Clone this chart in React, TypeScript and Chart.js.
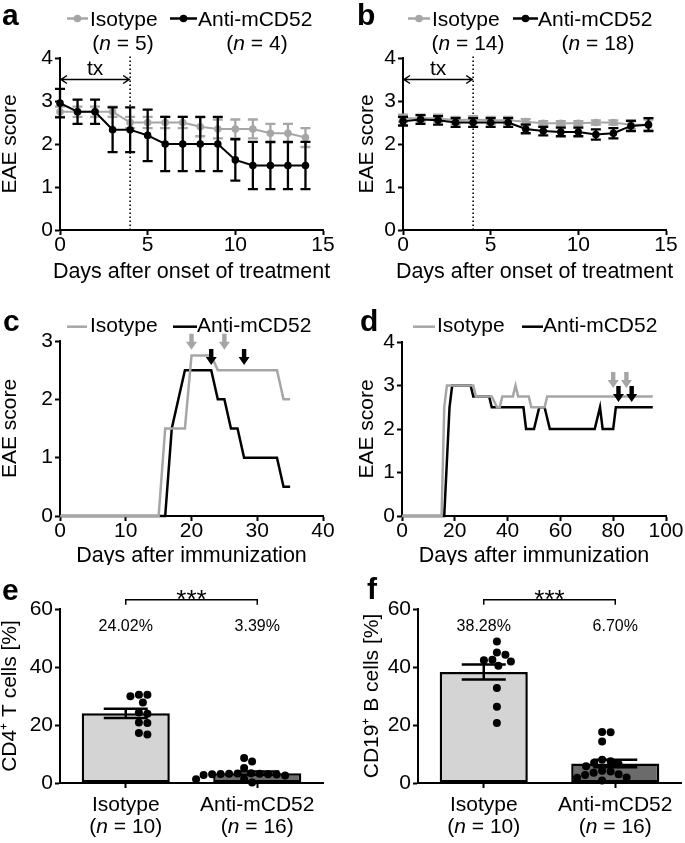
import React, { useEffect, useRef } from "react";
import { Chart, registerables } from "chart.js";

Chart.register(...registerables);

const FONT = "'Liberation Sans', Arial, Helvetica, sans-serif";
const INK = "#000000";
const GREY = "#a6a6a6";
const BAR_LIGHT = "#d4d4d4";
const BAR_DARK = "#6b6b6b";

// ---------------- data: panel a ----------------
const daysA = [0, 1, 2, 3, 4, 5, 6, 7, 8, 9, 10, 11, 12, 13, 14];
const isotypeA = [2.75, 2.75, 2.75, 2.75, 2.5, 2.5, 2.5, 2.5, 2.4, 2.35, 2.35, 2.35, 2.25, 2.25, 2.15];
const isotypeSemA = [0.12, 0.12, 0.12, 0.12, 0.13, 0.13, 0.13, 0.13, 0.22, 0.22, 0.22, 0.22, 0.22, 0.22, 0.22];
const antiA = [2.95, 2.75, 2.75, 2.33, 2.33, 2.2, 2.0, 2.0, 2.0, 2.0, 1.63, 1.5, 1.5, 1.5, 1.5];
const antiSemA = [0.33, 0.28, 0.28, 0.52, 0.52, 0.6, 0.63, 0.63, 0.63, 0.63, 0.48, 0.55, 0.55, 0.55, 0.55];
const groupSizesA = [5, 4];

// ---------------- data: panel b ----------------
const daysB = [0, 1, 2, 3, 4, 5, 6, 7, 8, 9, 10, 11, 12, 13, 14];
const isotypeB = [2.6, 2.6, 2.6, 2.55, 2.57, 2.55, 2.55, 2.52, 2.48, 2.48, 2.48, 2.5, 2.5, 2.45, 2.45];
const isotypeSemB = [0.08, 0.08, 0.08, 0.08, 0.08, 0.08, 0.08, 0.06, 0.05, 0.05, 0.05, 0.05, 0.05, 0.1, 0.12];
const antiB = [2.53, 2.57, 2.55, 2.5, 2.5, 2.5, 2.5, 2.35, 2.3, 2.28, 2.28, 2.22, 2.25, 2.42, 2.45];
const antiSemB = [0.1, 0.1, 0.1, 0.1, 0.1, 0.1, 0.1, 0.1, 0.1, 0.1, 0.1, 0.12, 0.12, 0.12, 0.15];
const groupSizesB = [14, 18];

const treatmentStartDay = 0;
const treatmentEndDay = 4;
const treatmentArrowScore = 3.5;

// ---------------- data: panel c ----------------
const isotypeDaysC = [0, 15, 16, 19, 20, 23, 24, 33, 34, 35];
const isotypeScoreC = [0, 0, 1.5, 1.5, 2.75, 2.75, 2.5, 2.5, 2.0, 2.0];
const antiDaysC = [0, 16, 17, 18, 19, 23, 24, 25, 26, 27, 28, 33, 34, 35];
const antiScoreC = [0, 0, 1.5, 2.0, 2.5, 2.5, 2.0, 2.0, 1.5, 1.5, 1.0, 1.0, 0.5, 0.5];
const isotypeArrowDaysC = [20, 25];
const antiArrowDaysC = [23, 28];
const isotypeArrowTipC = 2.85;
const antiArrowTipC = 2.59;

// ---------------- data: panel d ----------------
const isotypeDaysD = [0, 15, 16, 17, 27, 28, 34, 36, 37, 38, 42, 43, 44, 48, 49, 54, 55, 95];
const isotypeScoreD = [0, 0, 2.5, 3.0, 3.0, 2.75, 2.75, 2.5, 2.5, 2.75, 2.75, 3.0, 2.75, 2.75, 2.5, 2.5, 2.75, 2.75];
const antiDaysD = [0, 16, 18, 19, 26, 27, 33, 34, 46, 47, 50, 52, 54, 56, 73, 75, 76, 80, 81, 95];
const antiScoreD = [0, 0, 2.5, 3.0, 3.0, 2.75, 2.75, 2.5, 2.5, 2.0, 2.0, 2.5, 2.5, 2.0, 2.0, 2.5, 2.0, 2.0, 2.5, 2.5];
const isotypeArrowDaysD = [80, 85];
const antiArrowDaysD = [82, 87];
const isotypeArrowTipD = 2.94;
const antiArrowTipD = 2.62;

// ---------------- data: panels e / f ----------------
const groups = ["Isotype", "Anti-mCD52"];
const groupSizesEF = [10, 16];
const significance = "***";

const isotypeCd4 = [30.4, 29.9, 27.8, 30.4, 23.9, 24.3, 20.7, 20.9, 16.7, 17.2];
const antiCd4 = [8.6, 7.4, 5.2, 3.4, 3.3, 3.2, 3.2, 3.1, 3.0, 3.0, 2.9, 2.8, 2.6, 1.4, 1.3, 0.2];
const meansCd4 = [24.02, 3.39];
const semCd4 = [1.6, 0.55];

const isotypeCd19 = [48.8, 45.0, 44.2, 42.5, 41.9, 42.3, 40.4, 32.8, 26.3, 20.7];
const antiCd19 = [17.6, 17.5, 14.3, 8.0, 7.5, 7.0, 6.5, 5.8, 4.2, 4.0, 3.5, 3.0, 2.8, 1.9, 1.8, 0.9];
const meansCd19 = [38.28, 6.7];
const semCd19 = [2.6, 1.3];

// ---------------- helpers ----------------
const AXIS_FONT = { family: FONT, size: 21, lineHeight: 1 };
type Part = [string, boolean];

function drawParts(ctx: any, parts: Part[], x: number, y: number, size: number, align: "left" | "center") {
  ctx.save();
  ctx.textBaseline = "alphabetic";
  ctx.textAlign = "left";
  ctx.fillStyle = INK;
  const widths = parts.map(([t, it]) => {
    ctx.font = `${it ? "italic " : ""}${size}px ${FONT}`;
    return ctx.measureText(t).width;
  });
  const total = widths.reduce((a, b) => a + b, 0);
  let cx = align === "center" ? x - total / 2 : x;
  parts.forEach(([t, it], i) => {
    ctx.font = `${it ? "italic " : ""}${size}px ${FONT}`;
    ctx.fillText(t, cx, y);
    cx += widths[i];
  });
  ctx.restore();
}
const nParts = (n: number): Part[] => [["(", false], ["n", true], [` = ${n})`, false]];

function drawDownArrow(ctx: any, x: number, yTip: number, color: string) {
  const headH = 8, headW = 5.5, shaftW = 2.2, shaftH = 8;
  ctx.fillStyle = color;
  ctx.beginPath();
  ctx.moveTo(x, yTip);
  ctx.lineTo(x - headW, yTip - headH);
  ctx.lineTo(x - shaftW, yTip - headH);
  ctx.lineTo(x - shaftW, yTip - headH - shaftH);
  ctx.lineTo(x + shaftW, yTip - headH - shaftH);
  ctx.lineTo(x + shaftW, yTip - headH);
  ctx.lineTo(x + headW, yTip - headH);
  ctx.closePath();
  ctx.fill();
}

function drawErrors(chart: any, args: any, onTop: boolean) {
  const ds = chart.data.datasets[args.index];
  if (!ds.errors || !!ds.errorsOnTop !== onTop) return;
  const meta = args.meta;
  const ys = chart.scales[meta.yAxisID];
  const ctx = chart.ctx;
  ctx.save();
  ctx.strokeStyle = ds.errorColor || INK;
  ctx.lineWidth = ds.errorWidth || 2;
  meta.data.forEach((el: any, i: number) => {
    const raw = ds.data[i];
    const v = typeof raw === "number" ? raw : raw.y;
    const e = ds.errors[i];
    const x = el.x;
    const y1 = ys.getPixelForValue(v + e);
    const y2 = ys.getPixelForValue(v - e);
    const h = ds.errorCap || 5;
    ctx.beginPath();
    ctx.moveTo(x, y1); ctx.lineTo(x, y2);
    ctx.moveTo(x - h, y1); ctx.lineTo(x + h, y1);
    ctx.moveTo(x - h, y2); ctx.lineTo(x + h, y2);
    ctx.stroke();
  });
  ctx.restore();
}

const errorBarPlugin = {
  id: "errorBars",
  beforeDatasetDraw(chart: any, args: any) { drawErrors(chart, args, false); },
  afterDatasetDraw(chart: any, args: any) { drawErrors(chart, args, true); },
};

function decoPlugin(cfg: any) {
  return {
    id: "deco",
    afterDraw(chart: any) {
      const ctx = chart.ctx;
      const xs = chart.scales.x, ys = chart.scales.y;
      const area = chart.chartArea;
      ctx.save();
      ctx.fillStyle = INK;
      ctx.textAlign = "left";
      ctx.textBaseline = "alphabetic";
      ctx.font = `bold 30px ${FONT}`;
      ctx.fillText(cfg.tag, cfg.tagX, cfg.tagY);
      if (cfg.caption) {
        ctx.font = `21.5px ${FONT}`;
        ctx.textAlign = "center";
        ctx.fillText(cfg.caption, (area.left + area.right) / 2, area.bottom + cfg.captionDy);
      }
      (cfg.items || []).forEach((it: any) => {
        ctx.strokeStyle = it.color;
        ctx.lineWidth = 2.5;
        ctx.beginPath();
        ctx.moveTo(it.x0, it.lineY);
        ctx.lineTo(it.x1, it.lineY);
        ctx.stroke();
        if (it.marker) {
          ctx.fillStyle = it.color;
          ctx.beginPath();
          ctx.arc((it.x0 + it.x1) / 2, it.lineY, 3.8, 0, Math.PI * 2);
          ctx.fill();
        }
        drawParts(ctx, [[it.text, false]], it.textX, it.textY, 21, "left");
        if (it.n != null) drawParts(ctx, nParts(it.n), it.nX, it.nY, 21, "center");
      });
      (cfg.arrows || []).forEach((a: any) => {
        drawDownArrow(ctx, xs.getPixelForValue(a.day), ys.getPixelForValue(a.tip), a.color);
      });
      ctx.restore();
    },
  };
}

function txPlugin(cfg: any) {
  return {
    id: "tx",
    beforeDatasetsDraw(chart: any) {
      const ctx = chart.ctx;
      const xs = chart.scales.x, ys = chart.scales.y;
      const x = xs.getPixelForValue(cfg.endDay);
      const x0 = xs.getPixelForValue(cfg.startDay);
      ctx.save();
      ctx.strokeStyle = INK;
      ctx.lineWidth = 1.6;
      ctx.setLineDash([1.6, 2.4]);
      ctx.beginPath();
      ctx.moveTo(x, ys.getPixelForValue(0));
      ctx.lineTo(x, chart.chartArea.top - 3);
      ctx.stroke();
      ctx.setLineDash([]);
      const y = ys.getPixelForValue(cfg.score);
      ctx.lineWidth = 1.5;
      ctx.beginPath();
      ctx.moveTo(x0, y); ctx.lineTo(x, y);
      ctx.moveTo(x0 + 7, y - 4); ctx.lineTo(x0 + 1, y); ctx.lineTo(x0 + 7, y + 4);
      ctx.moveTo(x - 7, y - 4); ctx.lineTo(x - 1, y); ctx.lineTo(x - 7, y + 4);
      ctx.stroke();
      ctx.fillStyle = INK;
      ctx.font = `21px ${FONT}`;
      ctx.textAlign = "center";
      ctx.textBaseline = "alphabetic";
      ctx.fillText("tx", (x0 + x) / 2, y - 5);
      ctx.restore();
    },
  };
}

function barNotesPlugin(cfg: any) {
  return {
    id: "barNotes",
    afterDraw(chart: any) {
      const ctx = chart.ctx;
      const xs = chart.scales.x, ys = chart.scales.y;
      const area = chart.chartArea;
      const xA = xs.getPixelForValue(0), xB = xs.getPixelForValue(1);
      ctx.save();
      ctx.fillStyle = INK;
      ctx.font = `16px ${FONT}`;
      ctx.textAlign = "center";
      ctx.textBaseline = "middle";
      cfg.means.forEach((m: number, i: number) => {
        ctx.fillText(m.toFixed(2) + "%", xs.getPixelForValue(i), ys.getPixelForValue(cfg.percentScore));
      });
      const yb = ys.getPixelForValue(cfg.bracketScore);
      ctx.strokeStyle = INK;
      ctx.lineWidth = 1.5;
      ctx.beginPath();
      ctx.moveTo(xA, yb + 5); ctx.lineTo(xA, yb); ctx.lineTo(xB, yb); ctx.lineTo(xB, yb + 5);
      ctx.stroke();
      ctx.font = `26px ${FONT}`;
      ctx.textBaseline = "alphabetic";
      ctx.fillText(cfg.stars, (xA + xB) / 2, yb + 8);
      cfg.groups.forEach((g: string, i: number) => {
        const x = xs.getPixelForValue(i);
        drawParts(ctx, [[g, false]], x, area.bottom + 28, 21, "center");
        drawParts(ctx, nParts(cfg.ns[i]), x, area.bottom + 50, 21, "center");
      });
      ctx.fillStyle = INK;
      ctx.textAlign = "left";
      ctx.font = `bold 30px ${FONT}`;
      ctx.fillText(cfg.tag, cfg.tagX, cfg.tagY);
      ctx.restore();
    },
  };
}

const gridOpts = { drawOnChartArea: false, drawTicks: true, tickLength: 5, tickWidth: 2, tickColor: INK, color: INK };
const borderOpts = { display: true, color: INK, width: 2 };

function linearX(min: number, max: number, step: number, boxHeight: number) {
  return {
    type: "linear", min, max,
    ticks: { stepSize: step, color: INK, font: AXIS_FONT, padding: 0, maxRotation: 0, autoSkip: false },
    grid: gridOpts,
    border: borderOpts,
    afterFit: (s: any) => { s.height = boxHeight; },
  };
}
function linearY(max: number, step: number, boxWidth: number, title: string) {
  return {
    type: "linear", min: 0, max,
    ticks: { stepSize: step, color: INK, font: AXIS_FONT, padding: 2 },
    grid: gridOpts,
    border: borderOpts,
    title: { display: true, text: title, color: INK, font: AXIS_FONT, padding: 0 },
    afterFit: (s: any) => { s.width = boxWidth; },
  };
}
function baseOptions(padding: any, scales: any) {
  return {
    responsive: false,
    animation: false,
    devicePixelRatio: 1,
    events: [],
    layout: { padding },
    scales,
    plugins: { legend: { display: false }, tooltip: { enabled: false } },
  };
}

function pointsSeries(xs: number[], ys: number[]) {
  return xs.map((x, i) => ({ x, y: ys[i] }));
}

function makeScorePanel(canvas: HTMLCanvasElement, cfg: any) {
  return new Chart(canvas as any, {
    type: "line",
    data: {
      datasets: [
        {
          label: "Anti-mCD52", data: pointsSeries(cfg.days, cfg.anti),
          borderColor: INK, backgroundColor: INK, borderWidth: 2, pointRadius: 3.8, pointBorderWidth: 0,
          pointBackgroundColor: INK, errors: cfg.antiSem, errorColor: INK, errorWidth: 2.3, errorCap: 5,
          order: 1, clip: false,
        } as any,
        {
          label: "Isotype", data: pointsSeries(cfg.days, cfg.iso),
          borderColor: GREY, backgroundColor: GREY, borderWidth: 2, pointRadius: 3.8, pointBorderWidth: 0,
          pointBackgroundColor: GREY, errors: cfg.isoSem, errorColor: GREY, errorWidth: 2.3, errorCap: 5,
          order: 2, clip: false,
        } as any,
      ],
    },
    options: baseOptions(cfg.padding, {
      x: linearX(0, 15, 5, 55),
      y: linearY(4, 1, cfg.yWidth, "EAE score"),
    }) as any,
    plugins: [
      errorBarPlugin,
      txPlugin({ startDay: treatmentStartDay, endDay: treatmentEndDay, score: treatmentArrowScore }),
      decoPlugin(cfg.deco),
    ],
  });
}

function makeCoursePanel(canvas: HTMLCanvasElement, cfg: any) {
  return new Chart(canvas as any, {
    type: "line",
    data: {
      datasets: [
        {
          label: "Isotype", data: pointsSeries(cfg.isoDays, cfg.isoScore),
          borderColor: GREY, borderWidth: 2.5, pointRadius: 0, order: 1, clip: false,
        } as any,
        {
          label: "Anti-mCD52", data: pointsSeries(cfg.antiDays, cfg.antiScore),
          borderColor: INK, borderWidth: 2.5, pointRadius: 0, order: 2, clip: false,
        } as any,
      ],
    },
    options: baseOptions(cfg.padding, {
      x: linearX(0, cfg.xMax, cfg.xStep, 49),
      y: linearY(cfg.yMax, 1, cfg.yWidth, "EAE score"),
    }) as any,
    plugins: [decoPlugin(cfg.deco)],
  });
}

function beeswarm(pixY: number[], diameter: number): number[] {
  const order = pixY.map((_, i) => i).sort((a, b) => pixY[a] - pixY[b]);
  const placed: { x: number; y: number }[] = [];
  const offs = new Array(pixY.length).fill(0);
  order.forEach((i) => {
    const y = pixY[i];
    let best = 0;
    for (let k = 0; k < 400; k++) {
      const cand = k === 0 ? 0 : (k % 2 ? 1 : -1) * Math.ceil(k / 2) * 0.5;
      if (placed.every((p) => Math.hypot(p.x - cand, p.y - y) >= diameter)) { best = cand; break; }
    }
    placed.push({ x: best, y });
    offs[i] = best;
  });
  return offs;
}

function makeBarPanel(canvas: HTMLCanvasElement, cfg: any) {
  const chart = new Chart(canvas as any, {
    type: "bar",
    data: {
      labels: groups,
      datasets: [
        {
          type: "bar", data: cfg.means, backgroundColor: [BAR_LIGHT, BAR_DARK], borderColor: INK,
          borderWidth: 2.5, borderSkipped: false, barPercentage: 0.67, categoryPercentage: 1, grouped: false,
          errors: cfg.sems, errorsOnTop: true, errorCap: 22, errorWidth: 2.5, errorColor: INK, order: 3,
        } as any,
        ...cfg.points.map((vals: number[], gi: number) => ({
          type: "scatter", xAxisID: "x2", yAxisID: "y",
          data: vals.map((v) => ({ x: gi, y: v })),
          pointRadius: 4, pointBackgroundColor: INK, backgroundColor: INK, pointBorderWidth: 0,
          order: 1, clip: false,
        })),
      ],
    },
    options: baseOptions(cfg.padding, {
      x: {
        type: "category", offset: true,
        ticks: { display: false },
        grid: { ...gridOpts, offset: false },
        border: borderOpts,
        afterFit: (s: any) => { s.height = 60; },
      },
      x2: { type: "linear", min: -0.5, max: 1.5, display: false },
      y: linearY(60, 20, cfg.yWidth, cfg.yTitle),
    }) as any,
    plugins: [
      errorBarPlugin,
      barNotesPlugin({
        means: cfg.means, groups, ns: groupSizesEF, stars: significance,
        percentScore: 54, bracketScore: 63.2, tag: cfg.tag, tagX: cfg.tagX, tagY: cfg.tagY,
      }),
    ],
  });
  const ys = chart.scales.y as any;
  const x2 = chart.scales.x2 as any;
  const unit = x2.getPixelForValue(1) - x2.getPixelForValue(0);
  cfg.points.forEach((vals: number[], gi: number) => {
    const offs = beeswarm(vals.map((v) => ys.getPixelForValue(v)), 8.5);
    (chart.data.datasets[gi + 1] as any).data = vals.map((v, i) => ({ x: gi + offs[i] / unit, y: v }));
  });
  chart.update();
  return chart;
}

function Panel({ left, top, width, height, make }: any) {
  const ref = useRef<HTMLCanvasElement>(null);
  useEffect(() => {
    const chart = make(ref.current!);
    return () => chart.destroy();
  }, []);
  return (
    <div style={{ position: "absolute", left, top, width, height }}>
      <canvas ref={ref} width={width} height={height} style={{ width, height, display: "block" }} />
    </div>
  );
}

const legendRowAB = (sizes: number[], nXs: number[], gx: number[], bx: number[]) => [
  { color: GREY, marker: true, x0: gx[0], x1: gx[1], lineY: 18.5, text: "Isotype", textX: gx[2], textY: 26, n: sizes[0], nX: nXs[0], nY: 50 },
  { color: INK, marker: true, x0: bx[0], x1: bx[1], lineY: 18.5, text: "Anti-mCD52", textX: bx[2], textY: 26, n: sizes[1], nX: nXs[1], nY: 50 },
];
const legendRowCD = (gx: number[], bx: number[]) => [
  { color: GREY, marker: false, x0: gx[0], x1: gx[1], lineY: 41.7, text: "Isotype", textX: gx[2], textY: 47 },
  { color: INK, marker: false, x0: bx[0], x1: bx[1], lineY: 41.7, text: "Anti-mCD52", textX: bx[2], textY: 47 },
];

export default function App() {
  return (
    <div style={{ position: "absolute", left: 0, top: 0, width: 685, height: 843, background: "#fff" }}>
      <Panel
        left={0} top={0} width={342} height={285}
        make={(c: HTMLCanvasElement) => makeScorePanel(c, {
          days: daysA, iso: isotypeA, isoSem: isotypeSemA, anti: antiA, antiSem: antiSemA,
          padding: { left: 0, right: 19, top: 58, bottom: 0 }, yWidth: 60,
          deco: {
            tag: "a", tagX: 2, tagY: 25, caption: "Days after onset of treatment", captionDy: 48,
            items: legendRowAB(groupSizesA, [123, 257], [67, 88, 90], [170, 197, 198]),
          },
        })}
      />
      <Panel
        left={342} top={0} width={343} height={285}
        make={(c: HTMLCanvasElement) => makeScorePanel(c, {
          days: daysB, iso: isotypeB, isoSem: isotypeSemB, anti: antiB, antiSem: antiSemB,
          padding: { left: 15, right: 19, top: 58, bottom: 0 }, yWidth: 46,
          deco: {
            tag: "b", tagX: 15, tagY: 25, caption: "Days after onset of treatment", captionDy: 48,
            items: legendRowAB(groupSizesB, [126, 256], [66, 88, 90], [171, 196, 196]),
          },
        })}
      />
      <Panel
        left={0} top={285} width={342} height={280}
        make={(c: HTMLCanvasElement) => makeCoursePanel(c, {
          isoDays: isotypeDaysC, isoScore: isotypeScoreC, antiDays: antiDaysC, antiScore: antiScoreC,
          xMax: 40, xStep: 10, yMax: 3, yWidth: 60,
          padding: { left: 0, right: 19, top: 56, bottom: 0 },
          deco: {
            tag: "c", tagX: 3, tagY: 46, caption: "Days after immunization", captionDy: 46,
            items: legendRowCD([67, 87, 90], [173, 197, 197]),
            arrows: [
              ...isotypeArrowDaysC.map((day) => ({ day, tip: isotypeArrowTipC, color: GREY })),
              ...antiArrowDaysC.map((day) => ({ day, tip: antiArrowTipC, color: INK })),
            ],
          },
        })}
      />
      <Panel
        left={342} top={285} width={343} height={280}
        make={(c: HTMLCanvasElement) => makeCoursePanel(c, {
          isoDays: isotypeDaysD, isoScore: isotypeScoreD, antiDays: antiDaysD, antiScore: antiScoreD,
          xMax: 100, xStep: 20, yMax: 4, yWidth: 45,
          padding: { left: 15, right: 19, top: 57, bottom: 0 },
          deco: {
            tag: "d", tagX: 18, tagY: 46, caption: "Days after immunization", captionDy: 46,
            items: legendRowCD([71, 93, 95], [180, 201, 201]),
            arrows: [
              ...isotypeArrowDaysD.map((day) => ({ day, tip: isotypeArrowTipD, color: GREY })),
              ...antiArrowDaysD.map((day) => ({ day, tip: antiArrowTipD, color: INK })),
            ],
          },
        })}
      />
      <Panel
        left={0} top={565} width={342} height={278}
        make={(c: HTMLCanvasElement) => makeBarPanel(c, {
          means: meansCd4, sems: semCd4, points: [isotypeCd4, antiCd4],
          yTitle: "CD4\u207A T cells [%]", yWidth: 60,
          padding: { left: 0, right: 19, top: 44, bottom: 0 },
          tag: "e", tagX: 2, tagY: 35,
        })}
      />
      <Panel
        left={342} top={565} width={343} height={278}
        make={(c: HTMLCanvasElement) => makeBarPanel(c, {
          means: meansCd19, sems: semCd19, points: [isotypeCd19, antiCd19],
          yTitle: "CD19\u207A B cells [%]", yWidth: 56,
          padding: { left: 20, right: 2, top: 44, bottom: 0 },
          tag: "f", tagX: 25, tagY: 34,
        })}
      />
    </div>
  );
}
